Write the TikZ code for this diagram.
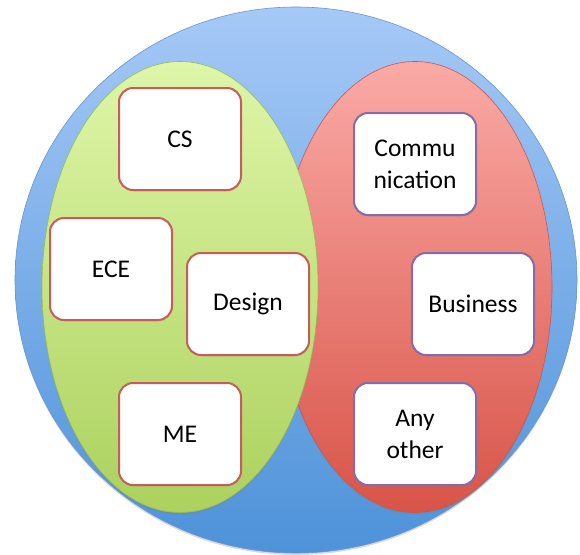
\documentclass[tikz,border=0pt]{standalone}
\usepackage{fontspec}
\setmainfont{Carlito}
\usepackage{tikz}
\usetikzlibrary{shapes.geometric, shadows}
\definecolor{SkyTop}{RGB}{166, 201, 247}
\definecolor{SkyBottom}{RGB}{78, 146, 217}
\definecolor{SkyEdge}{RGB}{105, 150, 205}
\definecolor{LimeTop}{RGB}{222, 246, 168}
\definecolor{LimeBottom}{RGB}{172, 209, 94}
\definecolor{LimeEdge}{RGB}{150, 188, 88}
\definecolor{SalmonTop}{RGB}{250, 170, 166}
\definecolor{SalmonBottom}{RGB}{216, 84, 72}
\definecolor{SalmonEdge}{RGB}{196, 88, 82}
\definecolor{BrickLine}{RGB}{200, 92, 88}
\definecolor{PlumLine}{RGB}{132, 108, 170}

\begin{document}
\begin{tikzpicture}[
		x=1pt, y=-1pt,
		blob/.style={
			ellipse, inner sep=0pt, line width=0.6pt,
			drop shadow={shadow xshift=0pt, shadow yshift=-2pt, opacity=0.3}
		},
		skyBlob/.style={blob, minimum width=562pt, minimum height=546pt, top color=SkyTop, bottom color=SkyBottom, draw=SkyEdge},
		limeBlob/.style={blob, minimum width=276pt, minimum height=451pt, top color=LimeTop, bottom color=LimeBottom, draw=LimeEdge},
		salmonBlob/.style={blob, minimum width=274pt, minimum height=451pt, top color=SalmonTop, bottom color=SalmonBottom, draw=SalmonEdge},
		card/.style={
			rectangle, rounded corners=14pt, fill=white, line width=2pt,
			minimum width=122pt, minimum height=102pt, inner sep=2pt,
			align=center, font=\fontsize{25.5}{32}\selectfont,
			drop shadow={shadow xshift=0.5pt, shadow yshift=-1.5pt, opacity=0.2}
		},
		limeCard/.style={card, draw=BrickLine},
		salmonCard/.style={card, draw=PlumLine}
		]
		\useasboundingbox (0,0) rectangle (580,554);
		
		% background groups
		\node[skyBlob] (all) at (296,280) {};
		\node[salmonBlob] (soft) at (415,287) {};
		\node[limeBlob] (tech) at (180,287) {};
		
		% engineering side
		\node[limeCard] (cs) at (180,139) {CS};
		\node[limeCard] (ece) at (111,269) {ECE};
		\node[limeCard] (design) at (248,304) {Design};
		\node[limeCard] (me) at (180,434) {ME};
		
		% other side
		\node[salmonCard] (comm) at (415,164) {Commu\\nication};
		\node[salmonCard] (business) at (473,304) {Business};
		\node[salmonCard] (other) at (415,434) {Any\\other};
	\end{tikzpicture}
\end{document}
